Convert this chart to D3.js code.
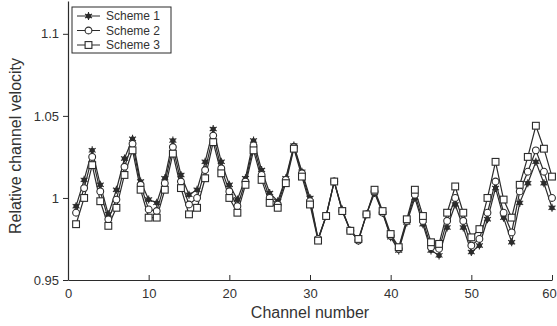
<!DOCTYPE html>
<html>
<head>
<meta charset="utf-8">
<script src="https://cdn.jsdelivr.net/npm/d3@7"></script>
<style>
  body { margin: 0; background: #fff; }
  text { font-family: "Liberation Sans", Arial, sans-serif; fill: #333; }
</style>
</head>
<body>
<svg id="chart" width="557" height="326"></svg>
<script>
const channels = d3.range(1, 61);

const scheme1 = [0.995, 1.011, 1.029, 1.008, 0.990, 1.005, 1.024, 1.036, 1.010, 0.999,
  0.997, 1.012, 1.035, 1.014, 1.002, 1.005, 1.022, 1.042, 1.022, 1.008,
  0.999, 1.012, 1.035, 1.017, 1.003, 0.998, 1.012, 1.032, 1.016, 1.000,
  0.975, 0.989, 1.010, 0.993, 0.980, 0.974, 0.990, 1.003, 0.991, 0.976,
  0.968, 0.985, 1.000, 0.984, 0.968, 0.965, 0.982, 0.996, 0.982, 0.967,
  0.971, 0.987, 1.006, 0.988, 0.973, 0.997, 1.009, 1.022, 1.009, 0.994];

const scheme2 = [0.991, 1.006, 1.025, 1.004, 0.987, 0.999, 1.019, 1.033, 1.008, 0.993,
  0.992, 1.009, 1.031, 1.010, 0.996, 1.000, 1.017, 1.038, 1.018, 1.004,
  0.995, 1.010, 1.032, 1.014, 1.000, 0.996, 1.011, 1.031, 1.015, 0.998,
  0.975, 0.989, 1.010, 0.992, 0.980, 0.974, 0.990, 1.004, 0.991, 0.977,
  0.969, 0.986, 1.002, 0.986, 0.970, 0.969, 0.986, 1.000, 0.986, 0.971,
  0.975, 0.991, 1.010, 0.991, 0.979, 1.004, 1.016, 1.029, 1.016, 1.000];

const scheme3 = [0.984, 1.000, 1.020, 0.998, 0.983, 0.994, 1.014, 1.029, 1.005, 0.988,
  0.988, 1.005, 1.027, 1.006, 0.990, 0.994, 1.012, 1.034, 1.015, 1.000,
  0.991, 1.008, 1.029, 1.011, 0.997, 0.994, 1.009, 1.030, 1.013, 0.996,
  0.974, 0.989, 1.010, 0.992, 0.980, 0.975, 0.990, 1.005, 0.992, 0.978,
  0.970, 0.987, 1.005, 0.989, 0.973, 0.972, 0.991, 1.007, 0.991, 0.976,
  0.981, 1.000, 1.022, 0.999, 0.988, 1.008, 1.025, 1.044, 1.030, 1.013];

const seriesNames = ['Scheme 1', 'Scheme 2', 'Scheme 3'];
const seriesMarkers = ['star', 'circle', 'square'];
const xTicks = [0, 10, 20, 30, 40, 50, 60];
const yTicks = [0.95, 1, 1.05, 1.1];

const ink = '#2b2b2b';
const svg = d3.select('#chart');

const x = d3.scaleLinear().domain([0, 60]).range([68, 552]);
const y = d3.scaleLinear().domain([0.95, 1.12]).range([280, 1]);

// axes: left ticks point out, bottom ticks point in
const xAxis = svg.append('g')
  .attr('transform', 'translate(0,280)')
  .call(d3.axisBottom(x).tickValues(xTicks).tickSize(-5).tickPadding(9).tickSizeOuter(0));
xAxis.select('.domain').attr('stroke', ink).attr('stroke-width', 1.2);
xAxis.selectAll('.tick line').attr('stroke', ink);
xAxis.selectAll('text').attr('font-size', 13).attr('fill', '#333')
  .style('font-family', '"Liberation Sans", Arial, sans-serif');
// last label sits against the right edge
xAxis.selectAll('.tick').filter(d => d === 60).select('text').attr('dx', -3);

const yAxis = svg.append('g')
  .attr('transform', 'translate(68,0)')
  .call(d3.axisLeft(y).tickValues(yTicks).tickFormat(d3.format('')).tickSize(5).tickPadding(4).tickSizeOuter(0));
yAxis.select('.domain').attr('stroke', ink).attr('stroke-width', 1.2);
yAxis.selectAll('.tick line').attr('stroke', ink);
yAxis.selectAll('text').attr('font-size', 13).attr('fill', '#333')
  .style('font-family', '"Liberation Sans", Arial, sans-serif');

svg.append('text')
  .attr('x', 310).attr('y', 318)
  .attr('text-anchor', 'middle')
  .attr('font-size', 16)
  .text('Channel number');

svg.append('text')
  .attr('transform', 'translate(21,146) rotate(-90)')
  .attr('text-anchor', 'middle')
  .attr('font-size', 16)
  .text('Relative channel velocity');

function drawMarker(g, kind) {
  if (kind === 'star') {
    g.append('path').attr('d', d3.symbol(d3.symbolAsterisk, 45)())
      .attr('stroke', ink).attr('stroke-width', 1.1).attr('fill', 'none');
    g.append('circle').attr('r', 2.6).attr('fill', ink);
  } else if (kind === 'circle') {
    g.append('circle').attr('r', 3.4).attr('fill', '#fff').attr('stroke', ink).attr('stroke-width', 1.1);
  } else {
    g.append('rect').attr('x', -3.4).attr('y', -3.4).attr('width', 6.8).attr('height', 6.8)
      .attr('fill', '#fff').attr('stroke', ink).attr('stroke-width', 1.1);
  }
}

const line = d3.line().x((d, i) => x(channels[i])).y(d => y(d));
const allSeries = [scheme1, scheme2, scheme3];

allSeries.forEach((vals, k) => {
  svg.append('path')
    .datum(vals)
    .attr('d', line)
    .attr('fill', 'none')
    .attr('stroke', ink)
    .attr('stroke-width', 1.2);
});

allSeries.forEach((vals, k) => {
  svg.append('g').selectAll('g')
    .data(vals)
    .enter()
    .append('g')
    .attr('transform', (d, i) => `translate(${x(channels[i])},${y(d)})`)
    .each(function () { drawMarker(d3.select(this), seriesMarkers[k]); });
});

// legend
const legend = svg.append('g').attr('transform', 'translate(72,7)');
legend.append('rect')
  .attr('width', 99).attr('height', 46)
  .attr('fill', '#fff').attr('stroke', ink).attr('stroke-width', 1);

const entry = legend.selectAll('.legend')
  .data(seriesNames)
  .enter()
  .append('g')
  .attr('class', 'legend')
  .attr('transform', (d, i) => `translate(0,${9 + i * 14.5})`);

entry.append('line')
  .attr('x1', 5).attr('x2', 28)
  .attr('stroke', ink).attr('stroke-width', 1);
entry.append('g')
  .attr('transform', 'translate(16.5,0)')
  .each(function (d, i) { drawMarker(d3.select(this), seriesMarkers[i]); });
entry.append('text')
  .attr('x', 34).attr('y', 4)
  .attr('font-size', 12)
  .text(d => d);
</script>
</body>
</html>
